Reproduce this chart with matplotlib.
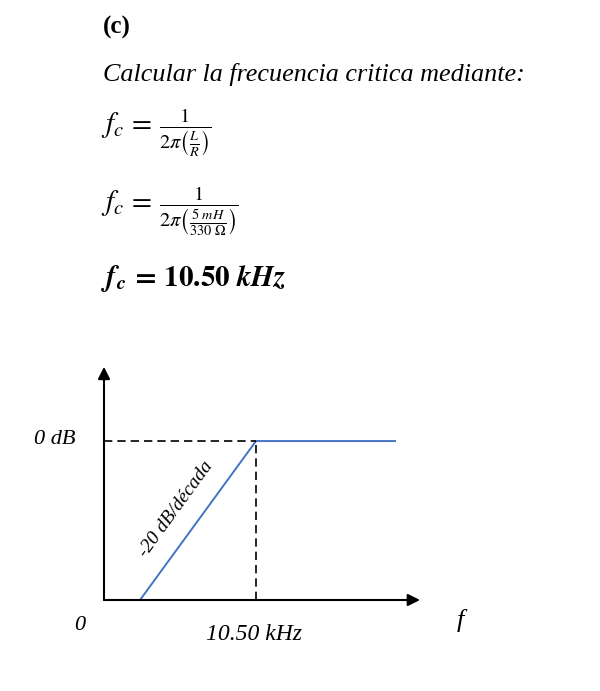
import matplotlib
matplotlib.use("Agg")
import matplotlib.pyplot as plt

# ---- data ----
curve_x = [1.14, 4.81, 9.24]      # frequency positions (arbitrary log units)
curve_y = [0.0, 1.0, 1.0]          # normalised gain (1 = 0 dB)
fc_x = 4.81
ref_level = 1.0
x_max = 10.0
y_max = 1.447

plt.rcParams['mathtext.fontset'] = 'stix'
serif = ['Liberation Serif', 'DejaVu Serif']

W, H = 600, 691
fig = plt.figure(figsize=(W / 100, H / 100), dpi=100)
fig.patch.set_facecolor('white')

def ftext(x, y, s, **kw):
    fig.text(x / W, 1 - y / H, s, **kw)

ftext(103, 27, '(c)', fontsize=18, fontweight='bold', family=serif, va='center', ha='left')
ftext(103, 75, 'Calcular la frecuencia critica mediante:', fontsize=18.8, style='italic',
      family=serif, va='center', ha='left')
ftext(101, 133, r'$f_c\,=\,\frac{1}{2\pi\left(\frac{L}{R}\right)}$', fontsize=21, va='center', ha='left')
ftext(101, 211, r'$f_c\,=\,\frac{1}{2\pi\left(\frac{5\ mH}{330\ \Omega}\right)}$', fontsize=21,
      va='center', ha='left')
ftext(101, 278, r'$\mathbfit{f}_{\mathbfit{c}}\,\mathbf{=}\,\mathbf{10.50}\ \mathbfit{kHz}$', fontsize=21,
      va='center', ha='left')

# ---- chart ----
ax = fig.add_axes([104 / W, 1 - 600 / H, 316 / W, 230 / H])
ax.set_xlim(0, x_max)
ax.set_ylim(0, y_max)
ax.axis('off')

blue = '#4472C4'
ax.plot(curve_x, curve_y, color=blue, lw=1.4, solid_capstyle='butt', clip_on=False)
ax.plot([0, fc_x], [ref_level, ref_level], color='black', lw=1.2, linestyle=(0, (5, 3)), clip_on=False)
ax.plot([fc_x, fc_x], [0, ref_level], color='black', lw=1.2, linestyle=(0, (5, 3)), clip_on=False)

ax.annotate('', xy=(x_max, 0), xytext=(0, 0),
            arrowprops=dict(arrowstyle='-|>', color='black', lw=1.5, mutation_scale=18,
                            shrinkA=0, shrinkB=0), annotation_clip=False)
ax.annotate('', xy=(0, y_max + 0.02), xytext=(0, 0),
            arrowprops=dict(arrowstyle='-|>', color='black', lw=1.5, mutation_scale=18,
                            shrinkA=0, shrinkB=0), annotation_clip=False)

ftext(55, 439, '0 dB', fontsize=16, style='italic', family=serif, va='center', ha='center')
ftext(80, 625, '0', fontsize=16, style='italic', family=serif, va='center', ha='center')
ftext(254, 634, '10.50 kHz', fontsize=17, style='italic', family=serif, va='center', ha='center')
ftext(460, 620, 'f', fontsize=19, style='italic', family=serif, va='center', ha='center')
ftext(176, 509, '-20 dB/década', fontsize=14, style='italic', family=serif, va='center', ha='center',
      rotation=54, rotation_mode='anchor')

fig.savefig('out.png', dpi=100, facecolor='white')
